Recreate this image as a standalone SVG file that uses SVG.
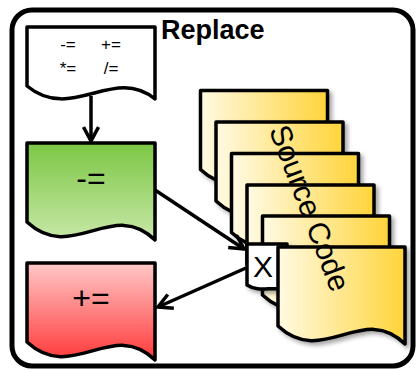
<svg xmlns="http://www.w3.org/2000/svg" xmlns:xlink="http://www.w3.org/1999/xlink" width="416" height="370" viewBox="0 0 416 370">
<defs>
<style>
.doc{stroke:#000;stroke-width:3.5;stroke-linejoin:round}
.lbl{font-family:"Liberation Sans",Arial,sans-serif;fill:#000}
.conn{stroke:#000;stroke-width:3.5;fill:none}
</style>
<linearGradient id="gGreen" x1="0" y1="0" x2="0" y2="1"><stop offset="0" stop-color="#7cc744"/><stop offset="1" stop-color="#c8e8a8"/></linearGradient>
<linearGradient id="gRed" x1="0" y1="0" x2="0" y2="1"><stop offset="0" stop-color="#ffc8c8"/><stop offset="1" stop-color="#ff3a3a"/></linearGradient>
<linearGradient id="gYel" x1="0" y1="0" x2="1" y2="0"><stop offset="0" stop-color="#fffae3"/><stop offset="1" stop-color="#ffd43a"/></linearGradient>
<filter id="sh" x="-10%" y="-10%" width="130%" height="130%"><feDropShadow dx="3" dy="3" stdDeviation="2" flood-color="#000" flood-opacity="0.35"/></filter>
<path id="docBig" d="M0,0 H127 V97 C85,55 45,121 0,79 Z"/>
<path id="docSmall" d="M0,0 H128 V72 C86,38 45,96 0,59 Z"/>
<path id="docX" d="M0,0 H40 V48 C28,40 14,50 0,41 Z"/>
<marker id="arr" viewBox="0 0 18 18" refX="16" refY="9" markerWidth="18" markerHeight="18" markerUnits="userSpaceOnUse" orient="auto"><path d="M2,1.5 L16,9 L2,16.5" fill="none" stroke="#000" stroke-width="3.5" stroke-linejoin="miter"/></marker>
</defs>
<rect x="12" y="10" width="401" height="356" rx="20" fill="#fff" stroke="#000" stroke-width="5"/>
<text class="lbl" x="161" y="39" font-size="27" font-weight="bold">Replace</text>

<g id="ops">
<use xlink:href="#docSmall" class="doc" fill="#fff" transform="translate(27,27)"/>
<text class="lbl" font-size="17" text-anchor="middle"><tspan x="68" y="50">-=</tspan><tspan x="111" y="50">+=</tspan><tspan x="68" y="74">*=</tspan><tspan x="111" y="74">/=</tspan></text>
</g>
<g id="minus">
<use xlink:href="#docBig" class="doc" fill="url(#gGreen)" transform="translate(27,143) scale(1.008,1)"/>
<text class="lbl" x="91" y="189" font-size="32" text-anchor="middle">-=</text>
</g>
<g id="plus">
<use xlink:href="#docBig" class="doc" fill="url(#gRed)" transform="translate(27,263) scale(1.008,1)"/>
<text class="lbl" x="91" y="309" font-size="32" text-anchor="middle">+=</text>
</g>

<g id="source">
<use xlink:href="#docBig" class="doc" fill="url(#gYel)" filter="url(#sh)" transform="translate(200.5,90.5)"/>
<use xlink:href="#docBig" class="doc" fill="url(#gYel)" filter="url(#sh)" transform="translate(216,122)"/>
<use xlink:href="#docBig" class="doc" fill="url(#gYel)" filter="url(#sh)" transform="translate(231.5,153.5)"/>
<use xlink:href="#docBig" class="doc" fill="url(#gYel)" filter="url(#sh)" transform="translate(247,185)"/>
<use xlink:href="#docBig" class="doc" fill="url(#gYel)" filter="url(#sh)" transform="translate(262.5,216)"/>
</g>
<g id="x">
<use xlink:href="#docX" class="doc" fill="#fff" filter="url(#sh)" transform="translate(247,244)"/>
<text class="lbl" x="263" y="277" font-size="30" text-anchor="middle">X</text>
</g>
<g id="source-front">
<use xlink:href="#docBig" class="doc" fill="url(#gYel)" filter="url(#sh)" transform="translate(278,247)"/>
<text class="lbl" x="310" y="208" font-size="30" text-anchor="middle" dominant-baseline="central" transform="rotate(69 310 208)">Source Code</text>
</g>

<g id="connectors">
<line class="conn" x1="91" y1="96" x2="91" y2="141" marker-end="url(#arr)"/>
<line class="conn" x1="155" y1="190" x2="244" y2="249" marker-end="url(#arr)"/>
<line class="conn" x1="246" y1="268" x2="158" y2="307" marker-end="url(#arr)"/>
</g>
</svg>
